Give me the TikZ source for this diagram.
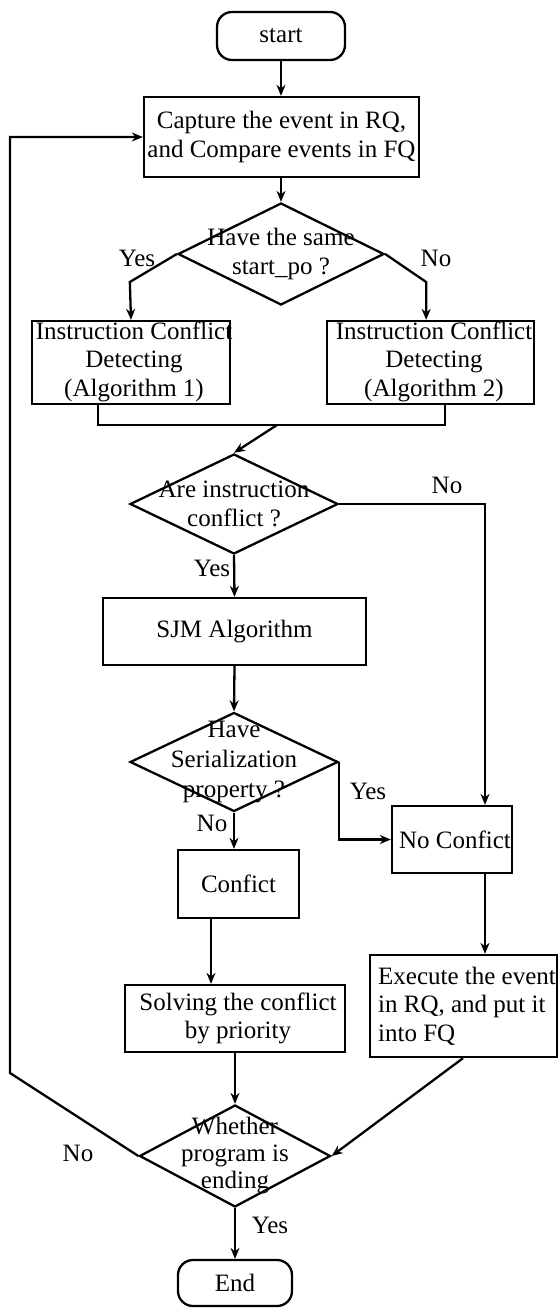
\documentclass[tikz,border=0pt]{standalone}
\usepackage{fontspec}
\setmainfont{Liberation Serif}
\usetikzlibrary{shapes.geometric,arrows.meta}
\begin{document}
\begin{tikzpicture}[x=1pt,y=-1pt, line width=2.3pt,
  every node/.style={font=\fontsize{25}{28.5}\selectfont},
  box/.style={draw, rectangle, inner sep=0pt},
  term/.style={draw, rectangle, rounded corners=15pt, inner sep=0pt},
  dia/.style={draw, diamond, inner sep=0pt},
  txt/.style={inner sep=0pt, align=center},
  lbl/.style={inner sep=0pt},
  arr/.style={-{Stealth[length=11pt,width=9pt]}}]
\useasboundingbox (0,0) rectangle (558,1308);

% shapes
\node[term, minimum width=128pt, minimum height=48pt] (start) at (281,36) {start};
\node[box, minimum width=275pt, minimum height=80pt] (cap) at (281.5,137) {};
\node[txt] (capt) at (cap) {Capture the event in RQ,\\and Compare events in FQ};
\node[dia, minimum width=206pt, minimum height=102pt] (d1) at (281,254) {};
\node[txt] (d1t) at (d1) {Have the same\\start\_po ?};
\node[box, minimum width=198pt, minimum height=83pt] (lb) at (131,362.5) {};
\node[txt] (lbt) at (134,361.5) {Instruction Conflict\\Detecting\\(Algorithm 1)};
\node[box, minimum width=207pt, minimum height=83pt] (rb) at (430.5,362.5) {};
\node[txt] (rbt) at (434,361.5) {Instruction Conflict\\Detecting\\(Algorithm 2)};
\coordinate (jm) at (277,425);
\node[dia, minimum width=208pt, minimum height=100pt] (d2) at (234,504) {};
\node[txt] (d2t) at (d2) {Are instruction\\conflict ?};
\node[box, minimum width=263pt, minimum height=67pt] (sjm) at (234.5,631.5) {};
\node[txt] (sjmt) at (sjm) {SJM Algorithm};
\node[dia, minimum width=208pt, minimum height=99pt] (d3) at (234,762) {};
\node[txt, font=\fontsize{25}{30}\selectfont] (d3t) at (d3) {Have\\Serialization\\property ?};
\node[box, minimum width=120pt, minimum height=67pt] (nc) at (452,839.5) {};
\node[txt] (nct) at (455,839.5) {No Confict};
\node[box, minimum width=121pt, minimum height=68pt] (conf) at (238.5,884) {};
\node[txt] (conft) at (conf) {Confict};
\node[box, minimum width=220pt, minimum height=67pt] (solve) at (235,1018.5) {};
\node[txt] (solvet) at (238,1018.5) {Solving the conflict\\by priority};
\node[box, minimum width=187pt, minimum height=102pt] (exec) at (463.5,1006) {};
\node[txt, align=left, anchor=west] (exect) at (377,1006) {Execute the event\\in RQ, and put it\\into FQ};
\node[dia, minimum width=191pt, minimum height=102pt] (d4) at (235,1156) {};
\node[txt, font=\fontsize{25}{27}\selectfont] (d4t) at (d4) {Whether\\program is\\ending};
\node[term, minimum width=114pt, minimum height=46pt] (end) at (235,1283) {End};

% labels
\node[lbl] (y1) at (137,258) {Yes};
\node[lbl] (n1) at (436,258) {No};
\node[lbl] (n2) at (447,485) {No};
\node[lbl] (y2) at (212,568) {Yes};
\node[lbl] (y3) at (368,791) {Yes};
\node[lbl] (n3) at (212,823) {No};
\node[lbl] (n4) at (78,1153) {No};
\node[lbl] (y4) at (270,1225) {Yes};

% connectors
\draw[arr] (start.south) -- (start.south |- cap.north);
\draw[arr] (d1.north |- cap.south) -- (d1.north);
\draw[arr] (d1.west) -- ++(-47,28) -- (lb.north);
\draw[arr] (d1.east) -- ++(41,28) coordinate (rk) -- (rk |- rb.north);
\draw (98,0 |- lb.south) -- (98,425) -- (445,425) -- (445,0 |- rb.south);
\draw[arr] (jm) -- (d2.north);
\draw[arr] (d2.east) -| (485,0 |- nc.north);
\draw[arr] (d2.south) -- (sjm.north);
\draw[arr] (sjm.south) -- (d3.north);
\draw[arr] (d3.east) |- (nc.west);
\draw[arr] (d3.south) -- (d3.south |- conf.north);
\draw[arr] (211,0 |- conf.south) -- (211,0 |- solve.north);
\draw[arr] (solve.south) -- (d4.north);
\draw[arr] (485,0 |- nc.south) -- (485,0 |- exec.north);
\draw[arr] (463,0 |- exec.south) -- (d4.east);
\draw[arr] (d4.south) -- (end.north);
\draw[arr] (d4.west) -- (10,1073) |- (cap.west);
\end{tikzpicture}
\end{document}
